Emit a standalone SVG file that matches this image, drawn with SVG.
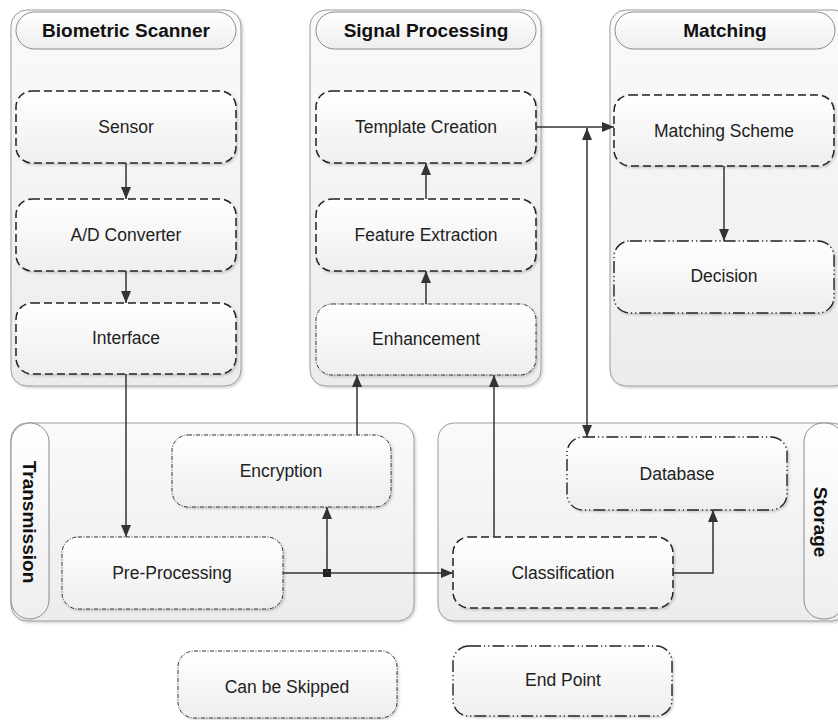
<svg xmlns="http://www.w3.org/2000/svg" width="838" height="720" viewBox="0 0 838 720">
<defs>
<linearGradient id="gc" x1="0" y1="0" x2="0" y2="1"><stop offset="0" stop-color="#fafafa"/><stop offset="1" stop-color="#ececec"/></linearGradient>
<linearGradient id="gn" x1="0" y1="0" x2="0" y2="1"><stop offset="0" stop-color="#ffffff"/><stop offset="1" stop-color="#eeeeee"/></linearGradient>
<filter id="sh" x="-5%" y="-5%" width="115%" height="115%"><feDropShadow dx="1.5" dy="1.5" stdDeviation="1.2" flood-color="#000" flood-opacity="0.18"/></filter>
<marker id="ah" viewBox="0 0 12 10" refX="12" refY="5" markerWidth="12" markerHeight="10" markerUnits="userSpaceOnUse" orient="auto"><path d="M0,0 L12,5 L0,10 z" fill="#333"/></marker>
<marker id="ahs" viewBox="0 0 12 10" refX="12" refY="5" markerWidth="12" markerHeight="10" markerUnits="userSpaceOnUse" orient="auto-start-reverse"><path d="M0,0 L12,5 L0,10 z" fill="#333"/></marker>
</defs>
<style>
.cont{fill:url(#gc);stroke:#9a9a9a;stroke-width:1;filter:url(#sh)}
.pill{fill:url(#gn);stroke:#8a8a8a;stroke-width:1}
.hd{font-family:"Liberation Sans",Arial,sans-serif;font-weight:bold;font-size:19px;fill:#111;text-anchor:middle}
.lb{font-family:"Liberation Sans",Arial,sans-serif;font-size:17.5px;fill:#222;text-anchor:middle}
.dash{fill:url(#gn);stroke:#222;stroke-width:1.5;stroke-dasharray:8 4;filter:url(#sh)}
.skip{fill:url(#gn);stroke:#333;stroke-width:1;stroke-dasharray:4 1.5 1 1.5;filter:url(#sh)}
.end{fill:url(#gn);stroke:#222;stroke-width:1.4;stroke-dasharray:12 3 1.2 3 1.2 3;filter:url(#sh)}
.ln{fill:none;stroke:#333;stroke-width:1.5}
</style>

<g id="biometric-scanner">
<rect class="cont" x="11" y="10" width="230" height="376" rx="16"/>
<rect class="pill" x="16" y="12" width="220" height="37" rx="18.5"/>
<text class="hd" x="126" y="37">Biometric Scanner</text>
</g>
<g id="signal-processing">
<rect class="cont" x="310" y="10" width="231" height="376" rx="16"/>
<rect class="pill" x="316" y="12" width="220" height="37" rx="18.5"/>
<text class="hd" x="426" y="37">Signal Processing</text>
</g>
<g id="matching">
<rect class="cont" x="610" y="10" width="240" height="376" rx="16"/>
<rect class="pill" x="615" y="12" width="220" height="37" rx="18.5"/>
<text class="hd" x="725" y="37">Matching</text>
</g>
<g id="transmission">
<rect class="cont" x="11" y="423" width="403" height="198" rx="16"/>
<rect class="pill" x="11" y="423" width="38" height="196" rx="19"/>
<text class="hd" transform="translate(30,522) rotate(90)" y="7">Transmission</text>
</g>
<g id="storage">
<rect class="cont" x="438" y="423" width="410" height="198" rx="16"/>
<rect class="pill" x="804" y="423" width="40" height="196" rx="19"/>
<text class="hd" transform="translate(821,522) rotate(90)" y="7">Storage</text>
</g>

<g id="sensor"><rect class="dash" x="16" y="91" width="220" height="72" rx="16"/><text class="lb" x="126" y="133">Sensor</text></g>
<g id="ad-converter"><rect class="dash" x="16" y="199" width="220" height="72" rx="16"/><text class="lb" x="126" y="241">A/D Converter</text></g>
<g id="interface"><rect class="dash" x="16" y="303" width="220" height="71" rx="16"/><text class="lb" x="126" y="344">Interface</text></g>

<g id="template-creation"><rect class="dash" x="316" y="91" width="220" height="72" rx="16"/><text class="lb" x="426" y="133">Template Creation</text></g>
<g id="feature-extraction"><rect class="dash" x="316" y="199" width="220" height="72" rx="16"/><text class="lb" x="426" y="241">Feature Extraction</text></g>
<g id="enhancement"><rect class="skip" x="316" y="304" width="220" height="71" rx="16"/><text class="lb" x="426" y="345">Enhancement</text></g>

<g id="matching-scheme"><rect class="dash" x="614" y="95" width="220" height="71" rx="16"/><text class="lb" x="724" y="137">Matching Scheme</text></g>
<g id="decision"><rect class="end" x="614" y="241" width="220" height="72" rx="16"/><text class="lb" x="724" y="282">Decision</text></g>

<g id="encryption"><rect class="skip" x="172" y="435" width="219" height="72" rx="16"/><text class="lb" x="281" y="477">Encryption</text></g>
<g id="pre-processing"><rect class="skip" x="62" y="537" width="221" height="72" rx="16"/><text class="lb" x="172" y="579">Pre-Processing</text></g>

<g id="database"><rect class="end" x="567" y="437" width="220" height="73" rx="16"/><text class="lb" x="677" y="480">Database</text></g>
<g id="classification"><rect class="dash" x="453" y="537" width="220" height="71" rx="16"/><text class="lb" x="563" y="579">Classification</text></g>

<g id="legend-skip"><rect class="skip" x="178" y="651" width="219" height="67" rx="16"/><text class="lb" x="287" y="693">Can be Skipped</text></g>
<g id="legend-end"><rect class="end" x="453" y="646" width="219" height="70" rx="16"/><text class="lb" x="563" y="686">End Point</text></g>

<g id="connectors">
<line class="ln" x1="126" y1="163" x2="126" y2="199" marker-end="url(#ah)"/>
<line class="ln" x1="126" y1="271" x2="126" y2="303" marker-end="url(#ah)"/>
<line class="ln" x1="126" y1="374" x2="126" y2="537" marker-end="url(#ah)"/>
<line class="ln" x1="426" y1="271" x2="426" y2="304" marker-start="url(#ahs)"/>
<line class="ln" x1="426" y1="163" x2="426" y2="199" marker-start="url(#ahs)"/>
<line class="ln" x1="536" y1="127" x2="614" y2="127" marker-end="url(#ah)"/>
<line class="ln" x1="587" y1="128" x2="587" y2="437" marker-start="url(#ahs)" marker-end="url(#ah)"/>
<line class="ln" x1="724" y1="166" x2="724" y2="241" marker-end="url(#ah)"/>
<line class="ln" x1="283" y1="573" x2="453" y2="573" marker-end="url(#ah)"/>
<rect x="323" y="569" width="8" height="8" fill="#222"/>
<line class="ln" x1="327" y1="573" x2="327" y2="507" marker-end="url(#ah)"/>
<line class="ln" x1="357" y1="435" x2="357" y2="375" marker-end="url(#ah)"/>
<line class="ln" x1="494" y1="537" x2="494" y2="375" marker-end="url(#ah)"/>
<polyline class="ln" points="673,573 713,573 713,510" marker-end="url(#ah)"/>
</g>
</svg>
